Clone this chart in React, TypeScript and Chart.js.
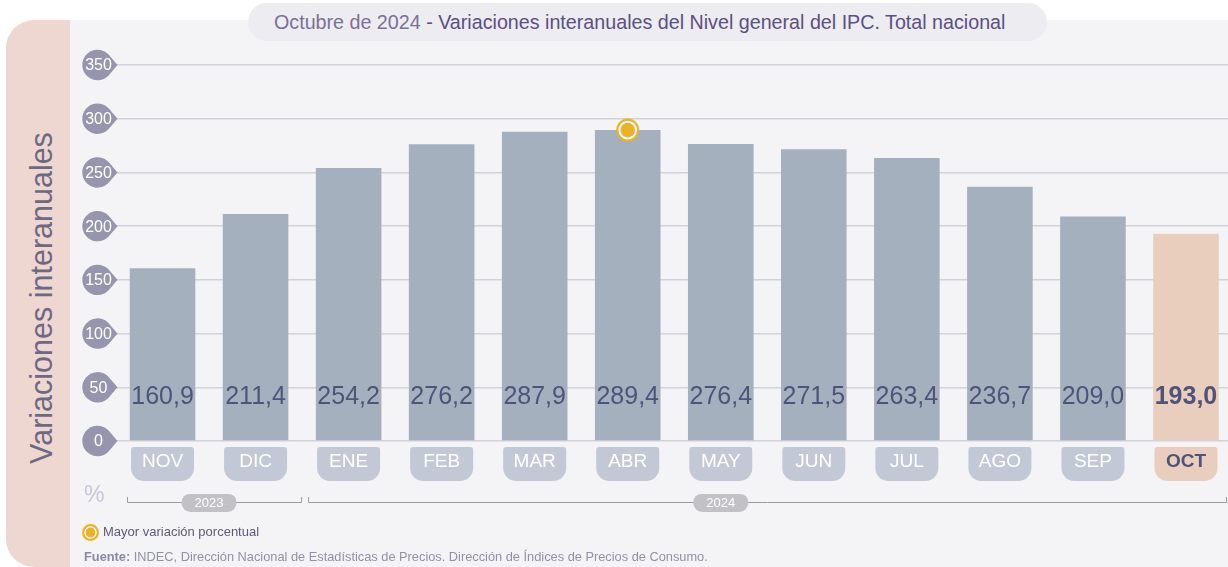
import React, { useEffect, useRef } from 'react';
import { Chart, registerables } from 'chart.js';

Chart.register(...registerables);

// ---------- data ----------
const categories = ['NOV', 'DIC', 'ENE', 'FEB', 'MAR', 'ABR', 'MAY', 'JUN', 'JUL', 'AGO', 'SEP', 'OCT'];
const values = [160.9, 211.4, 254.2, 276.2, 287.9, 289.4, 276.4, 271.5, 263.4, 236.7, 209.0, 193.0];
const valueLabels = ['160,9', '211,4', '254,2', '276,2', '287,9', '289,4', '276,4', '271,5', '263,4', '236,7', '209,0', '193,0'];
const yTicks = [0, 50, 100, 150, 200, 250, 300, 350];
const highlightIndex = 11;
const yearLabels = ['2023', '2024'];
const yearFirst = [0, 2];
const yearLast = [1, 11];
const yearPillAt = [0.5, 6];

// ---------- styles ----------
const FONT = '"Liberation Sans", Arial, Helvetica, sans-serif';
const BAR = '#a5b0be';
const BAR_HI = '#e9cebd';
const TAB = '#c2c8d5';
const VALUE_TEXT = '#4e5479';
const BADGE = '#9596ad';
const GRID = '#d2d2d8';
const ORANGE = '#efb025';
const PILL = '#c2c2c6';
const BRACKET = '#9c9c9f';

function roundRectPath(ctx: CanvasRenderingContext2D, x: number, y: number, w: number, h: number, rt: number, rb: number) {
  ctx.beginPath();
  ctx.moveTo(x + rt, y);
  ctx.lineTo(x + w - rt, y);
  ctx.quadraticCurveTo(x + w, y, x + w, y + rt);
  ctx.lineTo(x + w, y + h - rb);
  ctx.arcTo(x + w, y + h, x + w - rb, y + h, rb);
  ctx.lineTo(x + rb, y + h);
  ctx.arcTo(x, y + h, x, y + h - rb, rb);
  ctx.lineTo(x, y + rt);
  ctx.quadraticCurveTo(x, y, x + rt, y);
  ctx.closePath();
}

const decorPlugin = {
  id: 'decor',
  afterDatasetsDraw(chart: any) {
    const ctx: CanvasRenderingContext2D = chart.ctx;
    const xs = chart.scales.x;
    const ys = chart.scales.y;
    const meta = chart.getDatasetMeta(0);
    ctx.save();

    // value labels inside bars
    ctx.textAlign = 'center';
    ctx.textBaseline = 'middle';
    meta.data.forEach((bar: any, i: number) => {
      ctx.font = (i === highlightIndex ? 'bold ' : '') + '25px ' + FONT;
      ctx.fillStyle = VALUE_TEXT;
      ctx.fillText(valueLabels[i], bar.x, 397);
    });

    // category tabs
    const zeroY = ys.getPixelForValue(0);
    meta.data.forEach((bar: any, i: number) => {
      const w = 63;
      const x0 = bar.x - w / 2;
      const top = zeroY + 6;
      roundRectPath(ctx, x0, top, w, 34, 3, 13);
      ctx.fillStyle = i === highlightIndex ? BAR_HI : TAB;
      ctx.fill();
      ctx.font = (i === highlightIndex ? 'bold ' : '') + '19px ' + FONT;
      ctx.fillStyle = i === highlightIndex ? VALUE_TEXT : '#ffffff';
      ctx.fillText(categories[i], bar.x, top + 15);
    });

    // max marker
    let maxI = 0;
    values.forEach((v, i) => { if (v > values[maxI]) maxI = i; });
    const mx = meta.data[maxI].x;
    const my = ys.getPixelForValue(values[maxI]);
    ctx.beginPath(); ctx.arc(mx, my, 11.5, 0, Math.PI * 2); ctx.fillStyle = ORANGE; ctx.fill();
    ctx.beginPath(); ctx.arc(mx, my, 9.3, 0, Math.PI * 2); ctx.fillStyle = '#ffffff'; ctx.fill();
    ctx.beginPath(); ctx.arc(mx, my, 7.3, 0, Math.PI * 2); ctx.fillStyle = ORANGE; ctx.fill();

    // year brackets
    const cw = xs.getPixelForValue(1) - xs.getPixelForValue(0);
    const lineY = 502;
    yearLabels.forEach((lab, k) => {
      const start = xs.getPixelForValue(yearFirst[k]) - cw / 2 + (k === 0 ? 11 : 6);
      const end = Math.min(xs.getPixelForValue(yearLast[k]) + cw / 2, 1227);
      ctx.strokeStyle = BRACKET;
      ctx.lineWidth = 1;
      ctx.beginPath();
      ctx.moveTo(start + 0.5, lineY - 5);
      ctx.lineTo(start + 0.5, lineY + 0.5);
      ctx.lineTo(end - 0.5, lineY + 0.5);
      ctx.lineTo(end - 0.5, lineY - 5);
      ctx.stroke();
      const pc = xs.getPixelForValue(0) + yearPillAt[k] * cw;
      const pw = 55, ph = 18;
      roundRectPath(ctx, pc - pw / 2, lineY + 1 - ph / 2, pw, ph, 9, 9);
      ctx.fillStyle = PILL;
      ctx.fill();
      ctx.font = '13px ' + FONT;
      ctx.fillStyle = '#ffffff';
      ctx.fillText(lab, pc, lineY + 1.5);
    });

    ctx.restore();
  },
  afterDraw(chart: any) {
    const ctx: CanvasRenderingContext2D = chart.ctx;
    const ys = chart.scales.y;
    ctx.save();
    yTicks.forEach((v) => {
      const py = ys.getPixelForValue(v);
      const cx = 97.5, r = 15.2, tip = cx + 20;
      const th = Math.acos(r / (tip - cx));
      ctx.beginPath();
      ctx.moveTo(tip, py);
      ctx.lineTo(cx + r * Math.cos(th), py + r * Math.sin(th));
      ctx.arc(cx, py, r, th, Math.PI * 2 - th, false);
      ctx.closePath();
      ctx.fillStyle = BADGE;
      ctx.fill();
      ctx.font = '16px ' + FONT;
      ctx.fillStyle = '#ffffff';
      ctx.textAlign = 'center';
      ctx.textBaseline = 'middle';
      ctx.fillText(String(v), cx + 1, py + 1);
    });
    ctx.restore();
  },
};

export default function App() {
  const ref = useRef<HTMLCanvasElement | null>(null);

  useEffect(() => {
    if (!ref.current) return;
    const chart = new Chart(ref.current, {
      type: 'bar',
      data: {
        labels: categories,
        datasets: [
          {
            data: values,
            backgroundColor: values.map((_, i) => (i === highlightIndex ? BAR_HI : BAR)),
            borderWidth: 0,
            barPercentage: 0.705,
            categoryPercentage: 1,
          },
        ],
      },
      options: {
        responsive: false,
        animation: false,
        devicePixelRatio: 1,
        layout: { padding: { left: 116, right: 7.5, top: 65, bottom: 126 } },
        plugins: { legend: { display: false }, tooltip: { enabled: false } },
        scales: {
          x: { display: false },
          y: {
            min: 0,
            max: 350,
            ticks: { stepSize: 50, display: false },
            grid: { color: GRID, lineWidth: 1.5, drawTicks: false },
            border: { display: false },
          },
        },
      },
      plugins: [decorPlugin],
    });
    return () => chart.destroy();
  }, []);

  return (
    <div style={{ position: 'fixed', left: 0, top: 0, width: 1228, height: 567, overflow: 'hidden', background: '#ffffff', fontFamily: FONT }}>
      {/* card */}
      <div style={{ position: 'absolute', left: 6, top: 20, width: 1300, height: 547, background: '#eed7d0', borderRadius: '28px 0 0 28px' }} />
      <div style={{ position: 'absolute', left: 70, top: 20, width: 1200, height: 547, background: '#f4f4f7' }} />
      {/* title */}
      <div style={{ position: 'absolute', left: 248, top: 3, width: 799, height: 38, borderRadius: 19, background: '#ececf1', display: 'flex', alignItems: 'center', justifyContent: 'flex-start', boxSizing: 'border-box', paddingLeft: 26, fontSize: 19.7, whiteSpace: 'nowrap' }}>
        <span style={{ color: '#7c7099' }}>Octubre de 2024</span>
        <span style={{ color: '#5b4f85' }}>&nbsp;- Variaciones interanuales del Nivel general del IPC. Total nacional</span>
      </div>
      {/* y axis title */}
      <div style={{ position: 'absolute', left: 41, top: 298, transform: 'translate(-50%, -50%) rotate(-90deg)', whiteSpace: 'nowrap', fontSize: 30.5, color: '#6e6983' }}>
        Variaciones interanuales
      </div>
      <canvas ref={ref} width={1240} height={567} style={{ position: 'absolute', left: 0, top: 0, width: 1240, height: 567 }} />
      {/* percent sign */}
      <div style={{ position: 'absolute', left: 84, top: 481, fontSize: 23, color: '#c6c6d6', lineHeight: '26px' }}>%</div>
      {/* legend */}
      <div style={{ position: 'absolute', left: 81.5, top: 523.5, width: 13, height: 13, borderRadius: '50%', border: '2px solid ' + ORANGE, background: ORANGE, boxShadow: 'inset 0 0 0 1.6px #ffffff' }} />
      <div style={{ position: 'absolute', left: 103, top: 524, fontSize: 13, lineHeight: '16px', color: '#5d5a78', whiteSpace: 'nowrap' }}>Mayor variación porcentual</div>
      {/* source */}
      <div style={{ position: 'absolute', left: 84, top: 550, fontSize: 12.8, lineHeight: '14px', color: '#9190aa', whiteSpace: 'nowrap' }}>
        <b style={{ color: '#8a88a8' }}>Fuente:</b> INDEC, Dirección Nacional de Estadísticas de Precios. Dirección de Índices de Precios de Consumo.
      </div>
    </div>
  );
}
